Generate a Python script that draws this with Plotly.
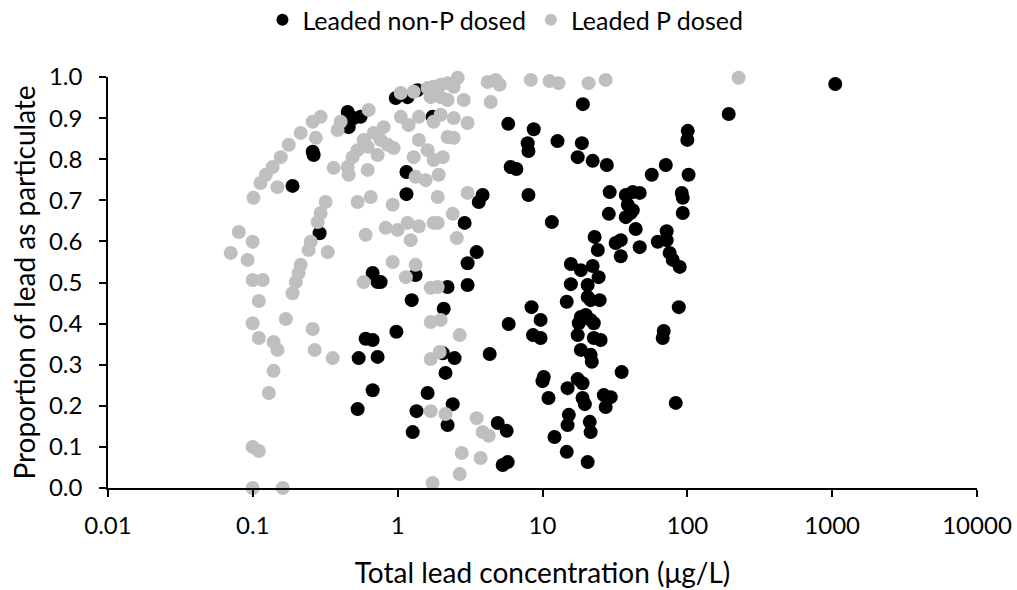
import plotly.graph_objects as go

# Leaded non-P dosed (black)
nonp_x = [1050, 193, 19, 5.8, 8.7, 12.7, 7.9, 8.0, 18.7, 17.5, 22.2, 27.8, 100.7, 100, 71, 56.8, 102,
          6.03, 6.6, 3.86, 3.63, 8.0, 29.1, 37.6, 42, 46.9, 38.8, 42, 37.6, 40.6, 91.5, 93, 93, 28.7,
          11.6, 44, 22.9, 24.1, 32, 34.7, 34.7, 46.9, 62.5, 72, 72, 75.5, 79.3, 88.6, 15.7, 18.4,
          22.2, 24.4, 15.7, 20.5, 14.7, 20.5, 21.5, 24.8, 8.4, 9.7, 5.84, 8.6, 9.7, 87.3, 18.4, 19.9,
          21.5, 22.6, 17.8, 17.5, 22.6, 25.2, 18.4, 21.5, 21.9, 68.7, 67.6, 4.32, 35.2, 10.2, 10.0,
          17.5, 18.9, 14.9, 26.5, 29.6, 27.3, 11.0, 18.9, 19.6, 83.2, 15.2, 14.9, 21.2, 21.5, 4.91,
          5.66, 12.1, 14.7, 20.5, 5.31, 5.75,
          0.672, 0.727, 0.763, 1.33, 2.21, 3.04, 3.04, 1.25, 2.08, 0.98, 0.601, 0.672, 0.538, 0.727,
          2.05, 2.47, 2.14, 0.672, 1.61, 2.40, 0.529, 1.35, 2.21, 1.27,
          0.97, 1.17, 1.37, 0.452, 0.497, 0.555, 0.459, 1.74, 0.263, 0.259, 0.188, 1.15, 1.15, 2.90,
          0.289, 3.51]
nonp_y = [0.983, 0.910, 0.934, 0.886, 0.873, 0.844, 0.839, 0.820, 0.839, 0.805, 0.796, 0.786, 0.869,
          0.847, 0.786, 0.762, 0.762, 0.781, 0.776, 0.713, 0.696, 0.713, 0.720, 0.713, 0.720, 0.718,
          0.689, 0.676, 0.659, 0.669, 0.718, 0.706, 0.669, 0.667, 0.647, 0.630, 0.611, 0.579, 0.596,
          0.603, 0.564, 0.586, 0.599, 0.603, 0.625, 0.572, 0.555, 0.538, 0.545, 0.530, 0.540, 0.513,
          0.496, 0.494, 0.453, 0.465, 0.457, 0.457, 0.440, 0.409, 0.399, 0.372, 0.365, 0.440, 0.416,
          0.421, 0.409, 0.401, 0.401, 0.372, 0.365, 0.360, 0.336, 0.324, 0.307, 0.382, 0.365, 0.326,
          0.282, 0.270, 0.260, 0.265, 0.255, 0.243, 0.226, 0.221, 0.197, 0.219, 0.219, 0.204, 0.207,
          0.178, 0.153, 0.161, 0.136, 0.158, 0.139, 0.124, 0.088, 0.063, 0.056, 0.063,
          0.523, 0.501, 0.501, 0.518, 0.489, 0.547, 0.494, 0.457, 0.436, 0.380, 0.363, 0.360, 0.316,
          0.319, 0.328, 0.316, 0.280, 0.238, 0.231, 0.204, 0.192, 0.187, 0.153, 0.136,
          0.949, 0.951, 0.968, 0.915, 0.900, 0.903, 0.878, 0.903, 0.810, 0.818, 0.735, 0.769, 0.715,
          0.645, 0.620, 0.574]

# Leaded P dosed (grey)
pd_x = [4.18, 4.75, 5.06, 4.39, 8.3, 11.2, 12.9, 20.8, 27.3, 226,
        2.60, 1.05, 1.29, 1.61, 1.77, 1.98, 2.21, 2.44, 1.69, 1.98, 2.21, 2.86, 0.631, 1.05, 1.19,
        1.40, 1.77, 1.98, 2.44, 3.04, 2.21, 2.44, 1.40, 1.29, 1.61, 1.77, 2.05, 1.92, 1.56, 1.33,
        0.80, 0.683, 0.582, 0.529, 0.489, 0.452, 0.459, 0.621, 0.727, 0.853, 0.938, 0.763, 0.621,
        0.361, 0.385, 0.404, 0.294, 0.259, 0.214, 0.177, 0.156, 0.137, 0.123, 0.113, 0.101, 0.272,
        0.148, 0.318, 0.294, 0.280, 0.251, 0.243, 0.214, 0.207, 0.198, 0.188, 0.329, 0.080, 0.0997,
        0.0703, 0.092, 0.0997, 0.117, 0.529, 0.651, 0.924, 0.826, 1.0, 1.17, 1.40, 1.77, 1.89, 1.23,
        0.601, 1.89, 2.40, 3.04, 2.56, 0.924, 1.33,
        1.14, 0.582, 1.69, 1.89, 1.69, 1.98, 2.68, 1.95, 1.69, 1.69, 2.14, 3.51, 3.86, 4.25, 2.77,
        3.74, 2.68, 1.74, 0.110, 0.0997, 0.110, 0.139, 0.148, 0.139, 0.129, 0.0997, 0.110, 0.0997,
        0.161, 0.169, 0.259, 0.267, 0.356]
pd_y = [0.988, 0.993, 0.981, 0.939, 0.993, 0.990, 0.985, 0.985, 0.993, 0.998,
        0.998, 0.961, 0.964, 0.973, 0.976, 0.981, 0.985, 0.976, 0.951, 0.951, 0.944, 0.944, 0.920,
        0.903, 0.883, 0.903, 0.891, 0.908, 0.900, 0.888, 0.854, 0.852, 0.847, 0.805, 0.822, 0.798,
        0.805, 0.762, 0.749, 0.757, 0.878, 0.864, 0.847, 0.822, 0.805, 0.781, 0.762, 0.774, 0.810,
        0.835, 0.827, 0.847, 0.830, 0.779, 0.871, 0.891, 0.903, 0.891, 0.864, 0.835, 0.805, 0.781,
        0.762, 0.742, 0.706, 0.852, 0.732, 0.696, 0.669, 0.647, 0.599, 0.579, 0.543, 0.523, 0.501,
        0.474, 0.574, 0.623, 0.599, 0.572, 0.555, 0.506, 0.506, 0.696, 0.708, 0.689, 0.633, 0.628,
        0.645, 0.637, 0.645, 0.645, 0.603, 0.616, 0.708, 0.667, 0.718, 0.608, 0.550, 0.543,
        0.513, 0.501, 0.487, 0.489, 0.404, 0.409, 0.372, 0.331, 0.314, 0.187, 0.180, 0.170, 0.136,
        0.127, 0.085, 0.073, 0.034, 0.012, 0.455, 0.401, 0.365, 0.355, 0.336, 0.285, 0.231, 0.100,
        0.090, 0.0, 0.0, 0.411, 0.387, 0.336, 0.316]

x_tickvals = [0.01, 0.1, 1, 10, 100, 1000, 10000]
x_ticktext = ["0.01", "0.1", "1", "10", "100", "1000", "10000"]

FONT = "Lato, Open Sans, DejaVu Sans, sans-serif"

fig = go.Figure()
fig.add_trace(go.Scatter(x=nonp_x, y=nonp_y, mode="markers", name="Leaded non-P dosed",
                         cliponaxis=False,
                         marker=dict(color="#000000", size=14, line=dict(width=0))))
fig.add_trace(go.Scatter(x=pd_x, y=pd_y, mode="markers", name="Leaded P dosed",
                         cliponaxis=False,
                         marker=dict(color="#bfbfbf", size=14, line=dict(width=0))))

fig.update_layout(
    width=1017, height=590,
    margin=dict(l=108, r=40, t=77, b=102),
    paper_bgcolor="white", plot_bgcolor="white",
    font=dict(family=FONT, size=24, color="#000000"),
    showlegend=True,
    legend=dict(orientation="h", x=0.497, xanchor="center", xref="container",
                y=0.966, yanchor="middle", yref="container",
                font=dict(size=25), itemsizing="constant", tracegroupgap=0,
                itemwidth=30),
    xaxis=dict(type="log", range=[-2, 4], tickvals=x_tickvals, ticktext=x_ticktext,
               automargin=False, ticklabeloverflow="allow",
               showline=True, linecolor="#000000", linewidth=1.5, ticks="outside",
               ticklen=7, tickwidth=1.5, tickcolor="#000000", showgrid=False, zeroline=False,
               tickfont=dict(size=24), ticklabelstandoff=8,
               title=dict(text="Total lead concentration (μg/L)", font=dict(size=28), standoff=26)),
    yaxis=dict(range=[0, 1.0], dtick=0.1, tick0=0, tickformat=".1f",
               automargin=False,
               showline=True, linecolor="#000000", linewidth=1.5, ticks="outside",
               ticklen=7, tickwidth=1.5, tickcolor="#000000", showgrid=False, zeroline=False,
               tickfont=dict(size=24), ticklabelstandoff=12,
               title=dict(text="Proportion of lead as particulate", font=dict(size=28), standoff=5)),
)

fig.write_html("out.html",
               config={"displayModeBar": False},
               post_script="document.body.style.margin='0';document.body.style.overflow='hidden';")
